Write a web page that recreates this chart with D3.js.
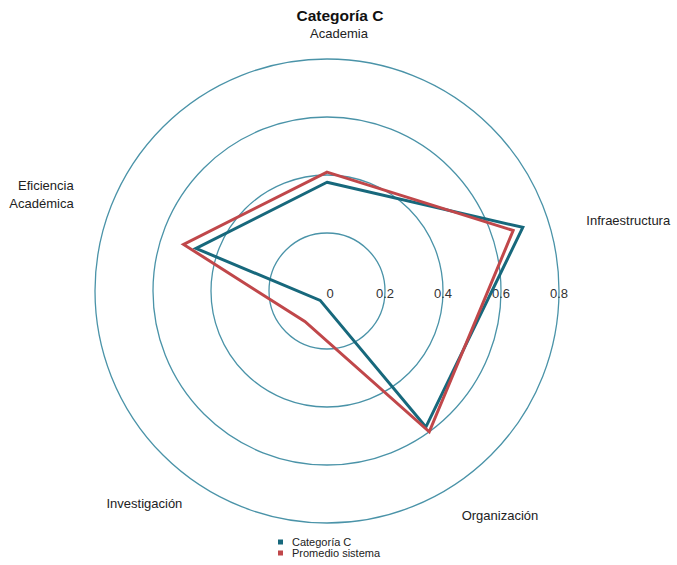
<!DOCTYPE html>
<html>
<head>
<meta charset="utf-8">
<script src="https://cdn.jsdelivr.net/npm/d3@7"></script>
<style>
  html, body { margin: 0; padding: 0; background: #fff; }
  svg { display: block; font-family: "Liberation Sans", Arial, Helvetica, sans-serif; }
</style>
</head>
<body>
<svg id="chart" width="677" height="565"></svg>
<script>
// ---- data ----
const axes = ["Academia", "Infraestructura", "Organización", "Investigación", "Eficiencia Académica"];
const categoriaC = [0.375, 0.71, 0.58, 0.04, 0.475];
const promedioSistema = [0.41, 0.675, 0.60, 0.13, 0.52];
const seriesNames = ["Categoría C", "Promedio sistema"];
const ringTicks = [0.2, 0.4, 0.6, 0.8];
const tickLabels = [0, 0.2, 0.4, 0.6, 0.8];
const title = "Categoría C";

// ---- styling ----
const colors = ["#17687c", "#c0474a"];
const cx = 327, cy = 291;
const svg = d3.select("#chart");
const r = d3.scaleLinear().domain([0, 0.8]).range([0, 232]);
const angle = d3.scaleLinear().domain([0, axes.length]).range([0, 2 * Math.PI]);

const g = svg.append("g").attr("transform", `translate(${cx},${cy})`);

// rings
g.selectAll("circle.ring").data(ringTicks).join("circle")
  .attr("class", "ring")
  .attr("r", d => r(d))
  .attr("fill", "none")
  .attr("stroke", "#4a93a8")
  .attr("stroke-width", 1.3);

// tick labels
g.selectAll("text.tick").data(tickLabels).join("text")
  .attr("class", "tick")
  .attr("x", d => r(d) + (d === 0 ? 3 : 0))
  .attr("y", 7)
  .attr("text-anchor", "middle")
  .attr("font-size", 13)
  .attr("fill", "#333")
  .text(d => d === 0 ? "0" : d3.format(".1f")(d));

// series
const line = d3.lineRadial()
  .angle((d, i) => angle(i))
  .radius(d => r(d))
  .curve(d3.curveLinearClosed);

[categoriaC, promedioSistema].forEach((vals, k) => {
  g.append("path")
    .datum(vals)
    .attr("d", line)
    .attr("fill", "none")
    .attr("stroke", colors[k])
    .attr("stroke-width", 3)
    .attr("stroke-linejoin", "miter");
});

// axis labels
const labelR = 258;
const labelStyle = [
  { anchor: "middle", dx: 12, dy: 5 },
  { anchor: "start", dx: 14, dy: 14 },
  { anchor: "start", dx: -17, dy: 20 },
  { anchor: "end", dx: 7, dy: 8 },
  { anchor: "end", dx: -8, dy: -21 }
];
axes.forEach((name, i) => {
  const a = angle(i);
  const px = labelR * Math.sin(a), py = -labelR * Math.cos(a);
  const st = labelStyle[i];
  const t = g.append("text")
    .attr("x", px + st.dx)
    .attr("y", py + st.dy)
    .attr("text-anchor", st.anchor)
    .attr("font-size", 13)
    .attr("fill", "#222");
  const parts = name === "Eficiencia Académica" ? ["Eficiencia", "Académica"] : [name];
  parts.forEach((p, j) => {
    t.append("tspan").attr("x", px + st.dx).attr("dy", j === 0 ? 0 : 18).text(p);
  });
});

// title
svg.append("text")
  .attr("x", cx + 13).attr("y", 21)
  .attr("text-anchor", "middle")
  .attr("font-size", 15.5)
  .attr("font-weight", "bold")
  .attr("fill", "#111")
  .text(title);

// legend
const leg = svg.append("g").attr("transform", "translate(278,542)");
seriesNames.forEach((n, i) => {
  const row = leg.append("g").attr("transform", `translate(0,${i * 11})`);
  row.append("rect").attr("x", 0).attr("y", -2.5).attr("width", 5).attr("height", 5).attr("fill", colors[i]);
  row.append("text").attr("x", 14).attr("y", 4).attr("font-size", 11).attr("fill", "#222").text(n);
});
</script>
</body>
</html>
